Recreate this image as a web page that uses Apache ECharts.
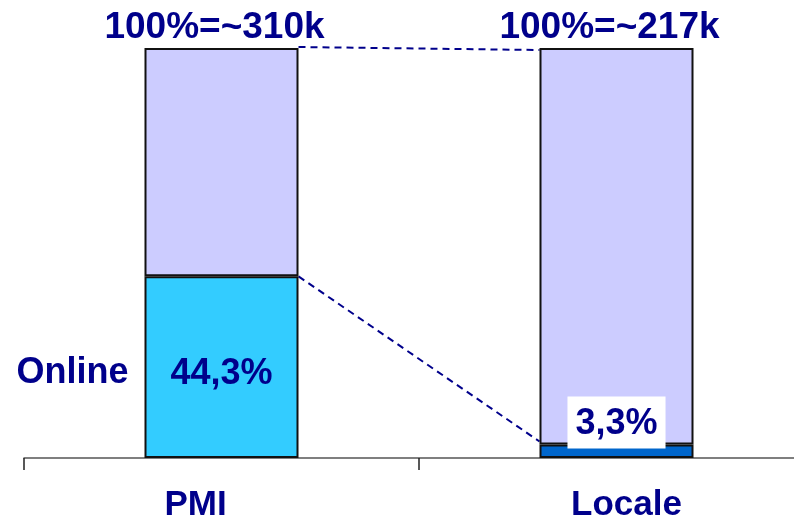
<!DOCTYPE html>
<html>
<head>
<meta charset="utf-8">
<script src="https://cdn.jsdelivr.net/npm/echarts@6/dist/echarts.min.js"></script>
<style>
  html, body { margin: 0; padding: 0; background: #fff; }
  #main { width: 794px; height: 520px; }
</style>
</head>
<body>
<div id="main"></div>
<script>
// data
const categories = ['PMI', 'Locale']
const totals = ['~310k', '~217k']
const onlineShare = [44.3, 3.3]
const restShare = [55.7, 96.7]

const NAVY = '#00008B'
const FONT = '"Liberation Sans", Arial, sans-serif'
const BAR_W = 154

function pct (v) {
  return v.toFixed(1).replace('.', ',') + '%'
}

const myChart = echarts.init(document.getElementById('main'))

const catText = {
  color: NAVY,
  fontFamily: FONT,
  fontWeight: 'bold',
  fontSize: 35
}

const option = {
  animation: false,
  grid: { left: 24, width: 790, top: 48, bottom: 62, outerBoundsMode: 'none', containLabel: false },
  xAxis: {
    type: 'category',
    data: categories,
    axisLine: { lineStyle: { color: '#555', width: 1.5 } },
    axisTick: { show: true, length: 12, lineStyle: { color: '#222', width: 1.5 } },
    axisLabel: {
      margin: 30,
      formatter: (v, i) => (i === 0 ? '{l|' + v + '}' : '{r|' + v + '}'),
      rich: {
        l: Object.assign({ padding: [0, 52, 0, 0] }, catText),
        r: Object.assign({ padding: [0, 0, 0, 20] }, catText)
      }
    }
  },
  yAxis: { type: 'value', min: 0, max: 100, show: false },
  series: [
    {
      name: 'Online',
      type: 'bar',
      stack: 'all',
      barWidth: BAR_W,
      data: onlineShare.map((v, i) => ({
        value: v,
        itemStyle: { color: i === 0 ? '#33CCFF' : '#0066CC' },
        label: i === 0
          ? { show: true, position: 'inside', offset: [0, 7] }
          : {
              show: true,
              position: 'top',
              distance: -4,
              backgroundColor: '#fff',
              padding: [10, 8, 6, 8]
            }
      })),
      itemStyle: { borderColor: '#111', borderWidth: 2 },
      label: {
        color: NAVY,
        fontFamily: FONT,
        fontWeight: 'bold',
        fontSize: 36,
        formatter: p => pct(p.value)
      },
      z: 3
    },
    {
      name: 'Total',
      type: 'bar',
      stack: 'all',
      barWidth: BAR_W,
      data: restShare,
      itemStyle: { color: '#CCCCFF', borderColor: '#111', borderWidth: 2 },
      label: {
        show: true,
        position: 'top',
        distance: 2,
        offset: [-7, 0],
        color: NAVY,
        fontFamily: FONT,
        fontWeight: 'bold',
        fontSize: 37,
        formatter: p => '100%=' + totals[p.dataIndex]
      },
      z: 2
    }
  ]
}
myChart.setOption(option)

// connector lines + "Online" tag, placed from the axis scales
const topL = myChart.convertToPixel({ gridIndex: 0 }, [0, 100])
const topR = myChart.convertToPixel({ gridIndex: 0 }, [1, 100])
const midL = myChart.convertToPixel({ gridIndex: 0 }, [0, onlineShare[0]])
const midR = myChart.convertToPixel({ gridIndex: 0 }, [1, onlineShare[1]])
const centerL = myChart.convertToPixel({ gridIndex: 0 }, [0, onlineShare[0] / 2])
const half = BAR_W / 2
const dash = { stroke: NAVY, lineWidth: 2, lineDash: [7, 5] }

myChart.setOption({
  graphic: [
    {
      type: 'line',
      shape: { x1: topL[0] + half, y1: topL[1] - 1, x2: topR[0] - half, y2: topR[1] + 2 },
      style: dash,
      z: 1
    },
    {
      type: 'line',
      shape: { x1: midL[0] + half, y1: midL[1], x2: midR[0] - half, y2: midR[1] - 3 },
      style: dash,
      z: 1
    },
    {
      type: 'text',
      x: topL[0] - half - 16,
      y: centerL[1] + 6,
      style: {
        text: 'Online',
        fill: NAVY,
        font: 'bold 36px ' + FONT,
        align: 'right',
        verticalAlign: 'middle'
      }
    }
  ]
})
</script>
</body>
</html>
